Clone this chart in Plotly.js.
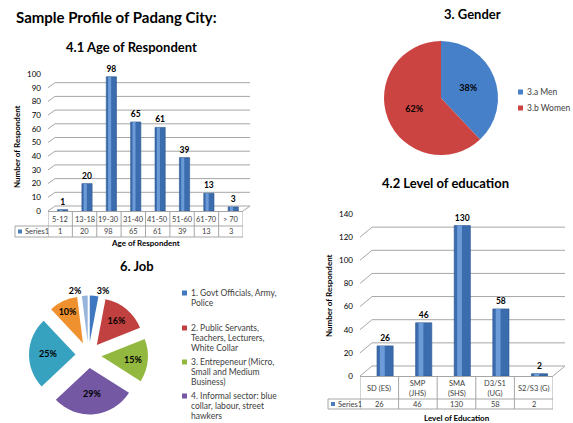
<!DOCTYPE html>
<html>
<head>
<meta charset="utf-8">
<script src="https://cdn.plot.ly/plotly-3.0.1.min.js"></script>
<style>html,body{margin:0;padding:0;background:#fff;}#chart{width:573px;height:423px;}</style>
</head>
<body>
<div id="chart"></div>
<script>
// ---------------- data ----------------
const pageTitle = 'Sample Profile of Padang City:';
const seriesName = 'Series1';

const ageTitle = '4.1 Age of Respondent';
const ageCategories = ['5-12', '13-18', '19-30', '31-40', '41-50', '51-60', '61-70', '> 70'];
const ageCounts = [1, 20, 98, 65, 61, 39, 13, 3];
const ageTicks = [0, 10, 20, 30, 40, 50, 60, 70, 80, 90, 100];
const ageXTitle = 'Age of Respondent';

const eduTitle = '4.2 Level of education';
const eduCategories = ['SD (ES)', 'SMP<br>(JHS)', 'SMA<br>(SHS)', 'D3/S1<br>(UG)', 'S2/S3 (G)'];
const eduCounts = [26, 46, 130, 58, 2];
const eduTicks = [0, 20, 40, 60, 80, 100, 120, 140];
const eduXTitle = 'Level of Education';
const yTitle = 'Number of Respondent';

const genderTitle = '3. Gender';
const genderLabels = ['3.a Men', '3.b Women'];
const genderShares = [38, 62];

const jobTitle = '6. Job';
const jobLabels = ['1. Govt Officials, Army, Police',
                   '2. Public Servants, Teachers, Lecturers, White Collar',
                   '3. Entrepeneur (Micro, Small and Medium Business)',
                   '4. Informal sector: blue collar, labour, street hawkers',
                   '5.', '6.', '7.'];
const jobShares = [3, 16, 15, 29, 25, 10, 2];

// ---------------- styling helpers ----------------
const W = 573, H = 423;
const px = v => v / W;
const py = v => 1 - v / H;
const FONT = 'Lato, "Open Sans", sans-serif';
const GRID = '#a6a6a6';
const TXT = '#404040';
const shapes = [], annotations = [];

function wall(ya, ticks, leftPx, rightPx, dx, dy) {
  ticks.forEach(v => {
    shapes.push({type: 'line', layer: 'below', xref: 'paper', xsizemode: 'pixel', xanchor: px(leftPx), x0: 0, x1: dx,
      yref: ya, ysizemode: 'pixel', yanchor: v, y0: 0, y1: dy, line: {color: GRID, width: 1}});
    shapes.push({type: 'line', layer: 'below', xref: 'paper', xsizemode: 'pixel', xanchor: px(leftPx), x0: dx, x1: rightPx - leftPx + dx,
      yref: ya, ysizemode: 'pixel', yanchor: v, y0: dy, y1: dy, line: {color: GRID, width: 1}});
  });
  shapes.push({type: 'line', layer: 'below', xref: 'paper', xsizemode: 'pixel', xanchor: px(rightPx), x0: 0, x1: dx,
    yref: ya, ysizemode: 'pixel', yanchor: 0, y0: 0, y1: dy, line: {color: GRID, width: 1}});
}

function table(xa, cats, vals, keyLeft, rightPx, top, mid, bot, catY) {
  const L = {color: GRID, width: 1};
  for (let i = 0; i <= cats.length; i++) {
    shapes.push({type: 'line', xref: xa, x0: i - 0.5, x1: i - 0.5, yref: 'paper', y0: py(top), y1: py(bot), line: L});
  }
  shapes.push({type: 'line', xref: 'paper', x0: px(keyLeft), x1: px(rightPx), yref: 'paper', y0: py(mid), y1: py(mid), line: L});
  shapes.push({type: 'line', xref: 'paper', x0: px(keyLeft), x1: px(rightPx), yref: 'paper', y0: py(bot), y1: py(bot), line: L});
  shapes.push({type: 'line', xref: 'paper', x0: px(keyLeft), x1: px(keyLeft), yref: 'paper', y0: py(mid), y1: py(bot), line: L});
  const vm = (mid + bot) / 2;
  shapes.push({type: 'rect', xref: 'paper', x0: px(keyLeft + 3), x1: px(keyLeft + 7), yref: 'paper', y0: py(vm + 2), y1: py(vm - 2),
    fillcolor: '#4a7ebb', line: {width: 0}});
  annotations.push({xref: 'paper', yref: 'paper', x: px(keyLeft + 8), y: py(vm), xanchor: 'left', yanchor: 'middle',
    text: seriesName, showarrow: false, font: {size: 7.5, color: TXT}});
  cats.forEach((c, i) => {
    annotations.push({xref: xa, yref: 'paper', x: i, y: py(catY), xanchor: 'center', yanchor: 'middle', text: c,
      showarrow: false, font: {size: 7.5, color: TXT}});
    annotations.push({xref: xa, yref: 'paper', x: i, y: py(vm), xanchor: 'center', yanchor: 'middle', text: String(vals[i]),
      showarrow: false, font: {size: 7.5, color: TXT}});
  });
}

function title(text, x, y, size, anchor) {
  annotations.push({xref: 'paper', yref: 'paper', x: px(x), y: py(y), xanchor: anchor || 'center', yanchor: 'middle',
    text: '<b>' + text + '</b>', showarrow: false, font: {size: size, color: '#000'}});
}
function axisTitle(text, x, y, angle) {
  annotations.push({xref: 'paper', yref: 'paper', x: px(x), y: py(y), xanchor: 'center', yanchor: 'middle',
    text: '<b>' + text + '</b>', textangle: angle || 0, showarrow: false, font: {size: 8, color: '#000'}});
}
function wrapLines(s, n) {
  const words = s.split(' '); const lines = []; let cur = '';
  words.forEach(w => { if (cur && (cur + ' ' + w).length > n) { lines.push(cur); cur = w; } else { cur = cur ? cur + ' ' + w : w; } });
  if (cur) lines.push(cur);
  return lines;
}

// ---------------- traces ----------------
const ageIdx = ageCategories.map((_, i) => i);
const eduIdx = eduCategories.map((_, i) => i);

function barPair(idx, vals, xa, ya, width, shift) {
  return [
    {type: 'bar', x: idx, y: vals, xaxis: xa, yaxis: ya, width: width, offset: shift - width / 2,
      marker: {color: '#3b6cad', line: {color: '#2c5890', width: 0.6}},
      text: vals.map(String), textposition: 'outside', cliponaxis: false,
      textfont: {size: 8.5, color: '#000', weight: 'bold', family: FONT}, hoverinfo: 'y', showlegend: false},
    {type: 'bar', x: idx, y: vals, xaxis: xa, yaxis: ya, width: width * 0.3, offset: shift - width * 0.32,
      marker: {color: '#6c9bd8', line: {width: 0}}, hoverinfo: 'skip', showlegend: false, textposition: 'none'}
  ];
}

const genderColors = ['#4680c9', '#cc4442'];
const jobColors = ['#3f78c0', '#c0413f', '#93b83f', '#7558a3', '#36a2c0', '#f0912f', '#97b4dc'];

const data = [
  ...barPair(ageIdx, ageCounts, 'x', 'y', 0.42, 0.1),
  ...barPair(eduIdx, eduCounts, 'x2', 'y2', 0.42, 0.15),
  {type: 'pie', values: genderShares, labels: genderLabels, sort: false, direction: 'clockwise', rotation: 0,
    domain: {x: [px(384), px(498)], y: [py(155), py(41)]},
    marker: {colors: genderColors, line: {width: 0}}, textinfo: 'percent', textposition: 'inside',
    insidetextorientation: 'horizontal', textfont: {size: 9, color: '#000', weight: 'bold', family: FONT},
    showlegend: false, automargin: false},
  {type: 'pie', values: jobShares, labels: jobLabels, sort: false, direction: 'clockwise', rotation: 0,
    domain: {x: [px(29), px(148)], y: [py(414.5), py(295.5)]}, pull: 0.28,
    marker: {colors: jobColors, line: {width: 0}}, textinfo: 'percent',
    textposition: ['outside', 'inside', 'inside', 'inside', 'inside', 'inside', 'outside'],
    insidetextorientation: 'horizontal', textfont: {size: 9, color: '#000', weight: 'bold', family: FONT},
    showlegend: false, automargin: false}
];

// ---------------- decorations ----------------
wall('y', ageTicks, 48, 243, 7, 5);
wall('y2', eduTicks, 360, 553, 12, 10);
table('x', ageCategories, ageCounts, 15, 243, 211, 226, 237, 219);
table('x2', eduCategories, eduCounts, 328, 553, 376, 399, 409, 388);

title(pageTitle, 14, 17, 15, 'left');
title(ageTitle, 131, 47, 13);
title(genderTitle, 472, 14, 13);
title(eduTitle, 445, 183, 13);
title(jobTitle, 137, 266, 13);
axisTitle(yTitle, 17, 147, -90);
axisTitle(ageXTitle, 145, 243);
axisTitle(yTitle, 329, 296, -90);
axisTitle(eduXTitle, 457, 418);

// gender legend
genderLabels.forEach((l, i) => {
  const cy = 92 + i * 16;
  shapes.push({type: 'rect', xref: 'paper', yref: 'paper', x0: px(518), x1: px(523), y0: py(cy + 2.5), y1: py(cy - 2.5),
    fillcolor: genderColors[i], line: {width: 0}});
  annotations.push({xref: 'paper', yref: 'paper', x: px(525), y: py(cy), xanchor: 'left', yanchor: 'middle', text: l,
    showarrow: false, font: {size: 8.5, color: TXT}});
});
// job legend (only first four entries visible in the original)
const jobLegendY = [293, 328, 362, 396];
jobLegendY.forEach((cy, i) => {
  shapes.push({type: 'rect', xref: 'paper', yref: 'paper', x0: px(182), x1: px(187), y0: py(cy + 2.5), y1: py(cy - 2.5),
    fillcolor: jobColors[i], line: {width: 0}});
  wrapLines(jobLabels[i], 24).forEach((line, k) => {
    annotations.push({xref: 'paper', yref: 'paper', x: px(189), y: py(cy + k * 9.8), xanchor: 'left', yanchor: 'middle',
      text: line, showarrow: false, font: {size: 8.5, color: TXT}});
  });
});

const axisCommonX = {showgrid: false, zeroline: false, showticklabels: false, ticks: '', showline: true, linecolor: GRID, linewidth: 1, fixedrange: true};
const axisCommonY = {showgrid: false, zeroline: false, showline: false, ticks: '', ticklabelstandoff: 6,
  tickfont: {size: 8, color: '#000'}, fixedrange: true};

const layout = {
  width: W, height: H, margin: {l: 0, r: 0, t: 0, b: 0}, paper_bgcolor: '#fff', plot_bgcolor: 'rgba(0,0,0,0)',
  font: {family: FONT, color: '#000'}, showlegend: false, barmode: 'overlay',
  xaxis: Object.assign({domain: [px(48), px(243)], range: [-0.5, ageCategories.length - 0.5], anchor: 'y'}, axisCommonX),
  yaxis: Object.assign({domain: [py(211), py(74)], range: [0, 100], tickvals: ageTicks, anchor: 'x'}, axisCommonY),
  xaxis2: Object.assign({domain: [px(360), px(553)], range: [-0.5, eduCategories.length - 0.5], anchor: 'y2'}, axisCommonX),
  yaxis2: Object.assign({domain: [py(376), py(214)], range: [0, 140], tickvals: eduTicks, anchor: 'x2'}, axisCommonY),
  shapes: shapes, annotations: annotations
};

Plotly.newPlot('chart', data, layout, {staticPlot: true, displayModeBar: false});
</script>
</body>
</html>
